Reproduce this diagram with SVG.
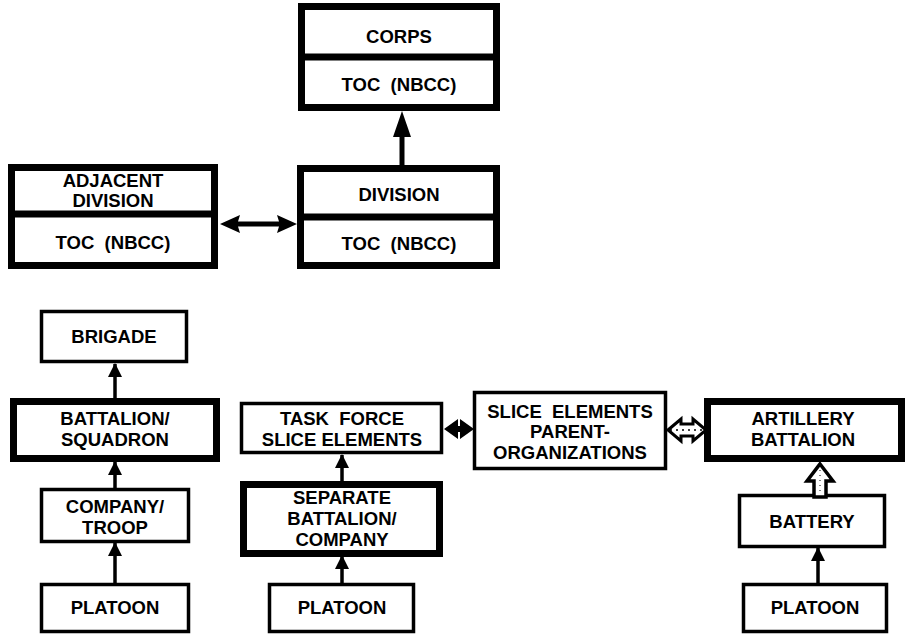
<svg xmlns="http://www.w3.org/2000/svg" width="905" height="636" viewBox="0 0 905 636" xml:space="preserve">
<style>
.thick{fill:#fff;stroke:#000;stroke-width:7}
.thin{fill:#fff;stroke:#000;stroke-width:3.5}
.div{stroke:#000;stroke-width:7}
text{font-family:"Liberation Sans",Arial,sans-serif;font-weight:bold;font-size:18.5px;fill:#000;text-anchor:middle;white-space:pre}
.ln{stroke:#000;stroke-width:3.5;fill:none}
</style>
<defs>
<marker id="ah" markerUnits="userSpaceOnUse" markerWidth="14" markerHeight="16" refX="13" refY="7" orient="auto">
<path d="M0,0 L14,7 L0,14 Z" fill="#000"/>
</marker>
</defs>
<g id="corps">
<rect class="thick" x="301.5" y="6.5" width="195" height="101"/>
<line class="div" x1="298" y1="57" x2="500" y2="57"/>
<text x="399" y="43">CORPS</text>
<text x="399" y="91">TOC  (NBCC)</text>
</g>
<g id="division">
<rect class="thick" x="300.5" y="168.5" width="196" height="97"/>
<line class="div" x1="297" y1="217" x2="500" y2="217"/>
<text x="399" y="201">DIVISION</text>
<text x="399" y="250">TOC  (NBCC)</text>
</g>
<g id="adjacent">
<rect class="thick" x="11.5" y="167.5" width="203" height="98"/>
<line class="div" x1="8" y1="214" x2="218" y2="214"/>
<text x="113" y="187">ADJACENT</text>
<text x="113" y="207">DIVISION</text>
<text x="113" y="249">TOC  (NBCC)</text>
</g>
<g id="brigade">
<rect class="thin" x="41.5" y="311.5" width="145" height="50"/>
<text x="114" y="343">BRIGADE</text>
</g>
<g id="battalion">
<rect class="thick" x="13.5" y="401.5" width="203" height="57"/>
<text x="115" y="425">BATTALION/</text>
<text x="115" y="446">SQUADRON</text>
</g>
<g id="company">
<rect class="thin" x="41.5" y="489.5" width="147" height="52"/>
<text x="115" y="513">COMPANY/</text>
<text x="115" y="534">TROOP</text>
</g>
<g id="platoon1">
<rect class="thin" x="41.5" y="584.5" width="147" height="47"/>
<text x="115" y="614">PLATOON</text>
</g>
<g id="taskforce">
<rect class="thin" x="241.5" y="403.5" width="200" height="49"/>
<text x="342" y="425">TASK  FORCE</text>
<text x="342" y="446">SLICE ELEMENTS</text>
</g>
<g id="separate">
<rect class="thick" x="243.5" y="484.5" width="196" height="69"/>
<text x="342" y="504">SEPARATE</text>
<text x="342" y="525">BATTALION/</text>
<text x="342" y="546">COMPANY</text>
</g>
<g id="platoon2">
<rect class="thin" x="269.5" y="584.5" width="144" height="47"/>
<text x="342" y="614">PLATOON</text>
</g>
<g id="slice">
<rect class="thin" x="474.5" y="392.5" width="191" height="76"/>
<text x="570" y="418">SLICE  ELEMENTS</text>
<text x="570" y="438">PARENT-</text>
<text x="570" y="459">ORGANIZATIONS</text>
</g>
<g id="artillery">
<rect class="thick" x="707.5" y="401.5" width="194" height="57"/>
<text x="803" y="425">ARTILLERY</text>
<text x="803" y="446">BATTALION</text>
</g>
<g id="battery">
<rect class="thin" x="739.5" y="495.5" width="145" height="51"/>
<text x="812" y="528">BATTERY</text>
</g>
<g id="platoon3">
<rect class="thin" x="743.5" y="584.5" width="143" height="47"/>
<text x="815" y="614">PLATOON</text>
</g>
<g id="connectors">
<line x1="402" y1="165" x2="402" y2="135" stroke="#000" stroke-width="5"/>
<path d="M402,111 L411,137 L393,137 Z" fill="#000"/>
<path d="M220,224 L240,215 L238,221.5 L279,221.5 L277,215 L297,224 L277,233 L279,226.5 L238,226.5 L240,233 Z" fill="#000"/>
<line class="ln" x1="115" y1="398" x2="115" y2="364" marker-end="url(#ah)"/>
<line class="ln" x1="115" y1="488" x2="115" y2="462" marker-end="url(#ah)"/>
<line class="ln" x1="115" y1="583" x2="115" y2="543" marker-end="url(#ah)"/>
<line class="ln" x1="342" y1="482" x2="342" y2="455" marker-end="url(#ah)"/>
<line class="ln" x1="342" y1="583" x2="342" y2="556" marker-end="url(#ah)"/>
<path d="M444,429 L458,419 L458,439 Z M474,429 L460,419 L460,439 Z" fill="#000"/>
<rect x="456" y="426" width="6" height="6" fill="#000"/>
<path d="M668,430 L681,419 L681,424 L693,424 L693,419 L706,430 L693,441 L693,436 L681,436 L681,441 Z" fill="#fff" stroke="#000" stroke-width="3"/>
<line x1="670" y1="430" x2="704" y2="430" stroke="#000" stroke-width="1.5" stroke-dasharray="2,4"/>
<line class="ln" x1="818" y1="583" x2="818" y2="548" marker-end="url(#ah)"/>
<path d="M820,464 L833,481 L826,481 L826,497 L814,497 L814,481 L807,481 Z" fill="#fff" stroke="#000" stroke-width="3.5"/>
<line x1="820" y1="470" x2="820" y2="494" stroke="#000" stroke-width="1" stroke-dasharray="1,4"/>
</g>
</svg>
